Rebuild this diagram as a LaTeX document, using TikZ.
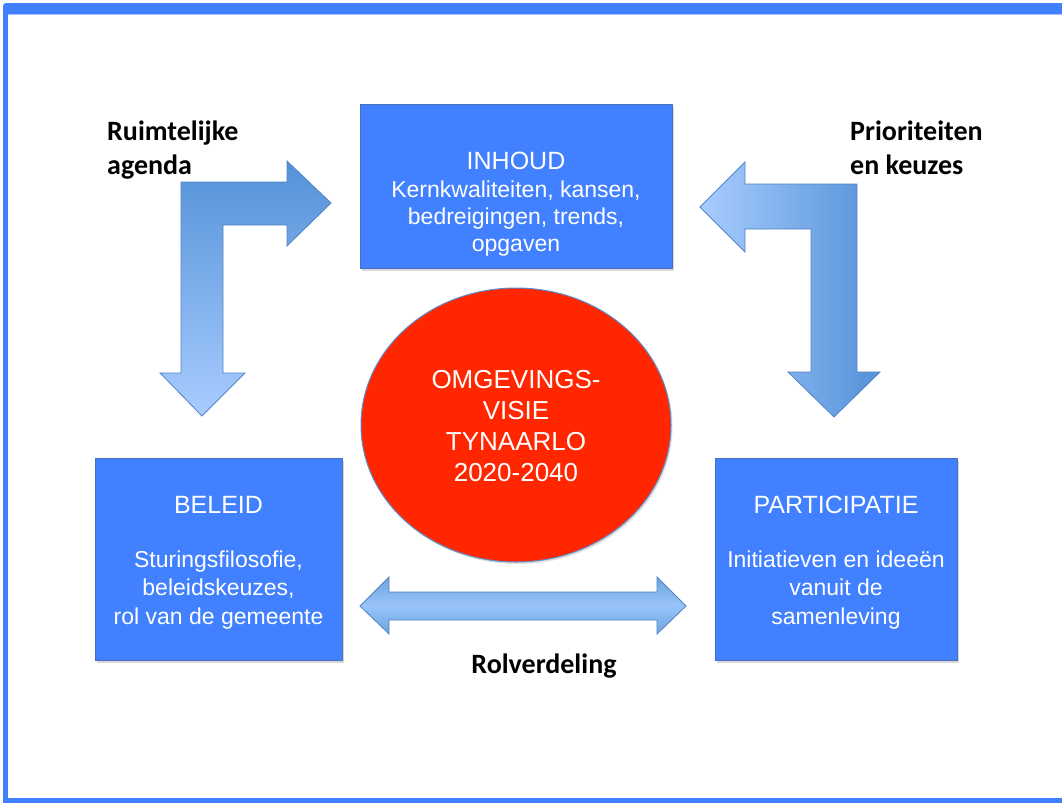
\documentclass[tikz,border=0pt]{standalone}
\usepackage{fontspec}
\setmainfont{Liberation Sans}
\newfontfamily\labelfont{Carlito}
\usetikzlibrary{shapes.geometric}
\usetikzlibrary{shadows}
\usetikzlibrary{positioning}
\definecolor{frameBlue}{RGB}{64,128,255}
\definecolor{frameLight}{RGB}{168,196,255}
\definecolor{boxBlue}{RGB}{65,128,255}
\definecolor{boxEdge}{RGB}{72,112,190}
\definecolor{visieRed}{RGB}{255,38,0}
\definecolor{visieEdge}{RGB}{92,140,205}
\definecolor{arrowDark}{RGB}{84,146,216}
\definecolor{arrowLight}{RGB}{168,204,255}
\definecolor{arrowMid}{RGB}{152,196,250}
\definecolor{arrowEdge}{RGB}{82,132,196}

\begin{document}
\begin{tikzpicture}[x=1pt,y=-1pt,
  blok/.style={rectangle, fill=boxBlue, draw=boxEdge, line width=0.8pt, inner sep=0pt,
    drop shadow={shadow xshift=2pt, shadow yshift=-2.5pt, opacity=0.3}},
  kop/.style={text=white, inner sep=0pt, font=\fontsize{25}{30}\selectfont},
  tekst/.style={text=white, inner sep=0pt, align=center, font=\fontsize{23}{28.5}\selectfont},
  bijschrift/.style={inner sep=0pt, align=left, font=\labelfont\bfseries\fontsize{28}{34}\selectfont},
  pijl/.style={draw=arrowEdge, line width=0.8pt, line join=miter},
]
\fill [white] (0,0) rectangle (1062,803);
\useasboundingbox (0,0) rectangle (1062,803);

% frame
\fill [frameBlue, rounded corners=3pt] (3,3) rectangle (1070,14);
\fill [frameBlue] (3,8) rectangle (8,803);
\fill [frameBlue] (3,798) rectangle (1070,803);
\draw [frameLight, line width=1pt] (8,14.5) -- (1070,14.5);

% arrows
\shadedraw [pijl, top color=arrowDark, bottom color=arrowLight]
  (181,182) -- (287,182) -- (287,161) -- (331,203) -- (287,246) -- (287,225)
  -- (223,225) -- (223,373) -- (245,373) -- (202,416) -- (160,373) -- (181,373) -- cycle;
\shadedraw [pijl, left color=arrowLight, right color=arrowDark]
  (857,184) -- (745,184) -- (745,162) -- (700,207) -- (745,252) -- (745,229)
  -- (811,229) -- (811,372) -- (788,372) -- (834,417) -- (880,372) -- (857,372) -- cycle;
\shadedraw [pijl, top color=arrowDark!85, bottom color=arrowDark!85, middle color=arrowMid]
  (360,606) -- (389,577) -- (389,592) -- (657,592) -- (657,577) -- (686,606)
  -- (657,634) -- (657,620) -- (389,620) -- (389,634) -- cycle;

% boxes
\node [blok, minimum width=312pt, minimum height=164pt] (inhoud) at (516,186) {};
\node [blok, minimum width=247pt, minimum height=202pt] (beleid) at (218.5,559) {};
\node [blok, minimum width=242pt, minimum height=202pt] (participatie) at (836,559) {};

\node [kop] (inhoudKop) at (516,161) {INHOUD};
\node [tekst, font=\fontsize{23}{27}\selectfont] (inhoudTekst) at (516,219)
  {Kernkwaliteiten, kansen,\\ bedreigingen, trends,\\ opgaven};
\node [kop] (beleidKop) at (218.5,505) {BELEID};
\node [tekst] (beleidTekst) at (218.5,590)
  {Sturingsfilosofie,\\ beleidskeuzes,\\ rol van de gemeente};
\node [kop] (participatieKop) at (836,505) {PARTICIPATIE};
\node [tekst] (participatieTekst) at (836,590)
  {Initiatieven en idee\"en\\ vanuit de\\ samenleving};

% centre
\node [ellipse, fill=visieRed, draw=visieEdge, line width=1pt, minimum width=310pt,
  minimum height=274pt, inner sep=0pt,
  drop shadow={shadow xshift=1.5pt, shadow yshift=-2pt, opacity=0.25}] (visie) at (516,425) {};
\node [tekst, font=\fontsize{26}{31.3}\selectfont] (visieTekst) at (516,426)
  {OMGEVINGS-\\ VISIE\\ TYNAARLO\\ 2020-2040};

% labels
\node [bijschrift, anchor=north west] (ruimtelijk) at (107,121) {Ruimtelijke\\ agenda};
\node [bijschrift, anchor=north west] (prioriteit) at (850,121) {Prioriteiten\\ en keuzes};
\node [bijschrift, anchor=base] (rolverdeling) at (544,673) {Rolverdeling};
\end{tikzpicture}
\end{document}
